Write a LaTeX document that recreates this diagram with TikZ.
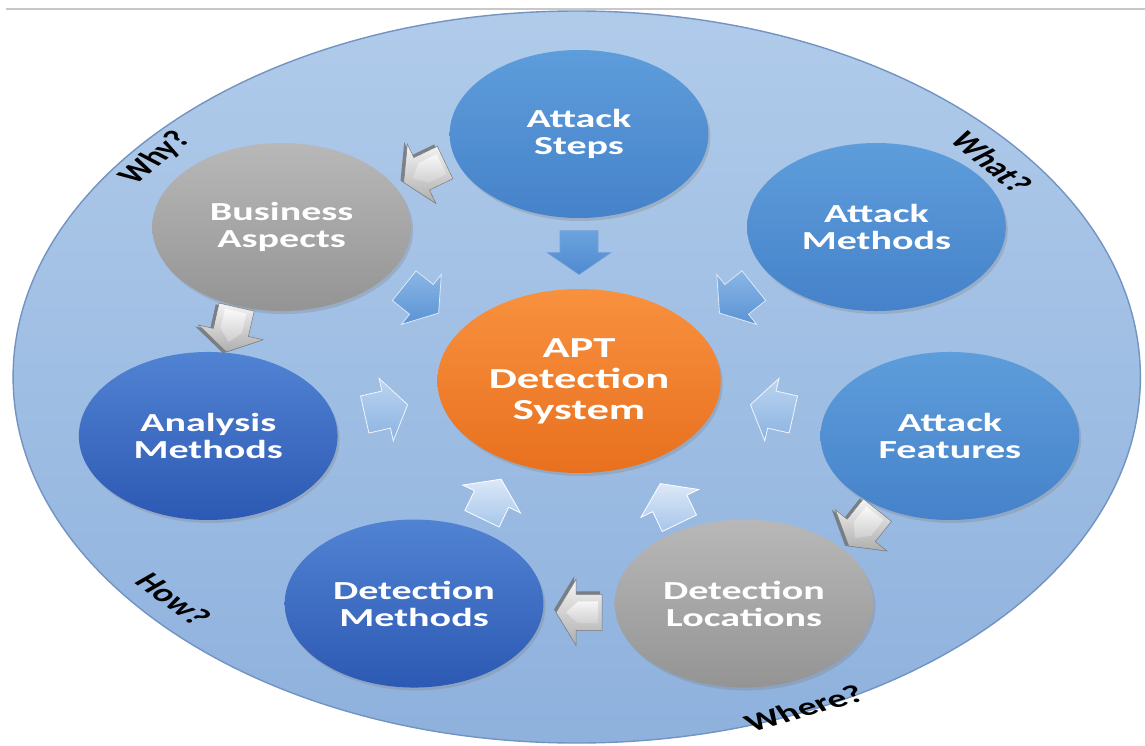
\documentclass[tikz,border=0pt]{standalone}
\usepackage{fontspec}
\setmainfont{Carlito}
\usetikzlibrary{calc,shadows}
\definecolor{bgtop}{HTML}{B0CBEA}
\definecolor{bgbot}{HTML}{8EB1DD}
\definecolor{bgedge}{HTML}{7393C2}
\definecolor{atktop}{HTML}{5E9DDB}
\definecolor{atkbot}{HTML}{4582CA}
\definecolor{dkbtop}{HTML}{5183D3}
\definecolor{dkbbot}{HTML}{2C59B3}
\definecolor{grytop}{HTML}{B8B8B8}
\definecolor{grybot}{HTML}{949494}
\definecolor{orgtop}{HTML}{F8913F}
\definecolor{orgbot}{HTML}{E8701E}
\definecolor{arrAtop}{HTML}{6BA3DD}
\definecolor{arrAbot}{HTML}{4F8AD0}
\definecolor{arrBtop}{HTML}{8AB6E5}
\definecolor{arrBbot}{HTML}{5A93D5}
\definecolor{arrCtop}{HTML}{BCD4EF}
\definecolor{arrCbot}{HTML}{8AB3E2}
\definecolor{arrDtop}{HTML}{DCE8F7}
\definecolor{arrDbot}{HTML}{A6C6EB}
\definecolor{gface}{HTML}{D4D4D4}
\definecolor{gdark}{HTML}{707070}
\definecolor{gedge}{HTML}{7A7A7A}
\definecolor{topline}{HTML}{C8C8C8}
\tikzset{
  bluearrow/.pic={
    \shade[#1] (-22,-19) -- (0,-19) -- (0,-32) -- (22,0) -- (0,32) -- (0,19) -- (-22,19) -- cycle;
  },
  grayarrow/.pic={
    \fill[gdark, opacity=.8] (-21,-21) -- (5,-21) -- (5,-36) -- (25,-3) -- (5,30) -- (5,15) -- (-21,15) -- cycle;
    \shade[top color=gface!25!white, bottom color=gface!55!gray, draw=gedge, line width=.5pt]
      (-23,-18) -- (3,-18) -- (3,-33) -- (23,0) -- (3,33) -- (3,18) -- (-23,18) -- cycle;
    \shade[top color=white, bottom color=gface, opacity=.75]
      (-19,-11) -- (1,-11) -- (13,0) -- (1,11) -- (-19,11) -- cycle;
  }
}
\begin{document}
\begin{tikzpicture}[xscale=1.54, x=1pt, y=1pt,
  circ/.style={circle, inner sep=0pt, minimum size=168pt, transform shape, text=white,
    font=\fontsize{26}{27}\selectfont\bfseries, align=center,
    drop shadow={shadow xshift=2pt, shadow yshift=-3pt, opacity=.3}},
  atk/.style={top color=atktop, bottom color=atkbot},
  dkb/.style={top color=dkbtop, bottom color=dkbbot},
  gry/.style={top color=grytop, bottom color=grybot},
  org/.style={top color=orgtop, bottom color=orgbot},
  arrA/.style={top color=arrAtop, bottom color=arrAbot, draw=arrAbot!80!white, line width=.6pt},
  arrB/.style={top color=arrBtop, bottom color=arrBbot, draw=white!70!arrBtop, line width=.8pt},
  arrC/.style={top color=arrCtop, bottom color=arrCbot, draw=white!80!arrCtop, line width=.8pt},
  arrD/.style={top color=arrDtop, bottom color=arrDbot, draw=white, line width=.8pt},
  lab/.style={transform shape, font=\fontsize{25}{25}\selectfont\bfseries, text=black, inner sep=0pt},
  disc/.style={circle, inner sep=0pt, minimum size=732pt, transform shape, top color=bgtop, bottom color=bgbot, draw=bgedge, line width=1.4pt}
]
\useasboundingbox (-376,-364) rectangle (367.5,381);
\fill[white] (-376,-364) rectangle (367.5,381);
\coordinate (tl) at (-372,372);
\coordinate (tr) at (367.5,372);
\draw[topline, line width=1.2pt] (tl) -- (tr);

\node[disc] (ring) at (-1.5,4) {};

\node[lab, rotate=51] (why) at (-275,223) {Why?};
\node[lab, rotate=-51.5] (what) at (268,219) {What?};
\node[lab, rotate=-48.5] (how) at (-263,-218) {How?};
\node[lab, rotate=24] (where) at (146,-327) {Where?};

\node[circ, org, minimum size=184pt, font=\fontsize{29}{31}\selectfont\bfseries] (apt) at (0,0) {APT\\Detection\\System};
\node[circ, atk] (steps) at (90:247) {Attack\\Steps};
\node[circ, gry] (business) at (141.43:247) {Business\\Aspects};
\node[circ, dkb] (analysis) at (192.86:247) {Analysis\\Methods};
\node[circ, dkb] (detmeth) at (244.29:247) {Detection\\Methods};
\node[circ, gry] (detloc) at (295.71:247) {Detection\\Locations};
\node[circ, atk] (features) at (347.14:247) {Attack\\Features};
\node[circ, atk] (methods) at (38.57:247) {Attack\\Methods};

\pic[rotate=270] at ($(apt)!.52!(steps)$) {bluearrow=arrA};
\pic[rotate=321.43] at ($(apt)!.53!(business)$) {bluearrow=arrB};
\pic[rotate=218.57] at ($(apt)!.53!(methods)$) {bluearrow=arrB};
\pic[rotate=12.86] at ($(apt)!.52!(analysis)$) {bluearrow=arrC};
\pic[rotate=167.14] at ($(apt)!.52!(features)$) {bluearrow=arrC};
\pic[rotate=64.29] at ($(apt)!.53!(detmeth)$) {bluearrow=arrD};
\pic[rotate=115.71] at ($(apt)!.55!(detloc)$) {bluearrow=arrD};

\pic[rotate=205.71] at ($(apt)!1.04!($(steps)!.5!(business)$)$) {grayarrow};
\pic[rotate=257.14] at ($(apt)!1.04!($(business)!.5!(analysis)$)$) {grayarrow};
\pic[rotate=231.43] at ($(apt)!1.06!($(features)!.5!(detloc)$)$) {grayarrow};
\pic[rotate=180] at ($(apt)!1.04!($(detloc)!.5!(detmeth)$)$) {grayarrow};
\end{tikzpicture}
\end{document}
